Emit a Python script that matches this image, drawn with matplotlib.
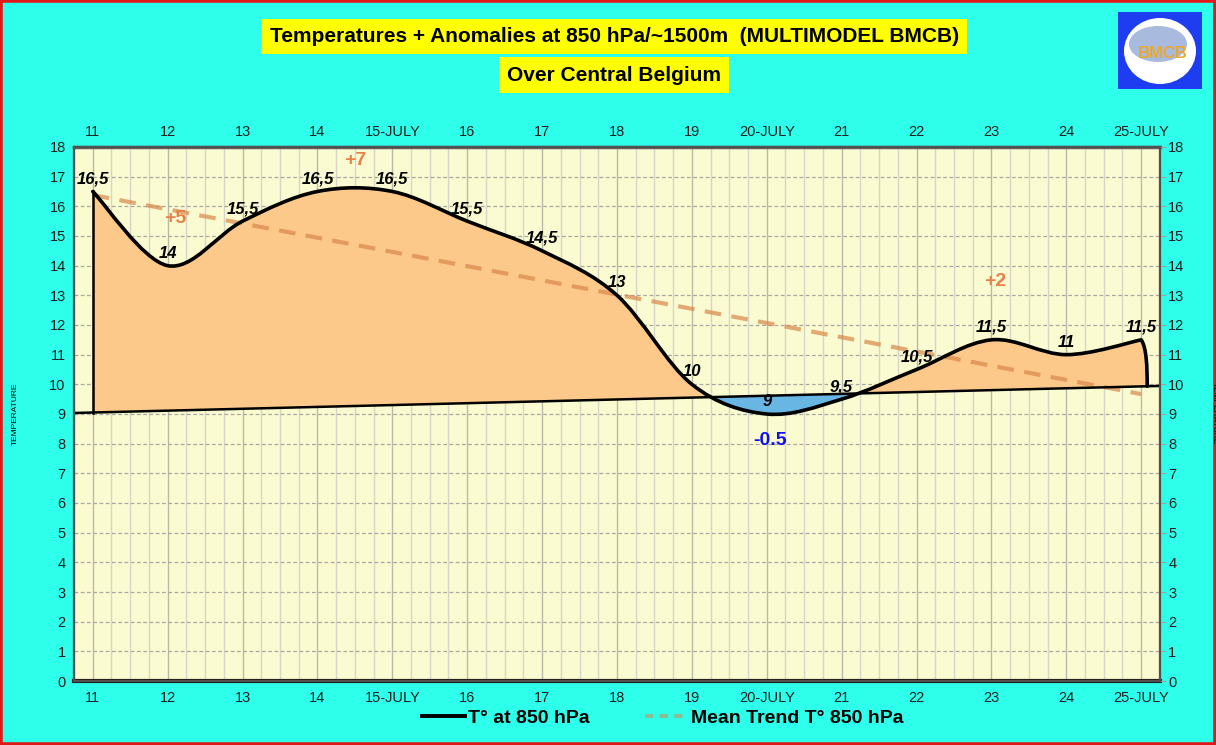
import matplotlib
matplotlib.use("Agg")
import matplotlib.pyplot as plt
import numpy as np
from matplotlib.path import Path
from matplotlib.patches import PathPatch, Polygon, Rectangle, Ellipse
from matplotlib.lines import Line2D

plt.rcParams['font.family'] = ['Liberation Sans', 'DejaVu Sans']

# data
days = [11, 12, 13, 14, 15, 16, 17, 18, 19, 20, 21, 22, 23, 24, 25]
temps = [16.5, 14, 15.5, 16.5, 16.5, 15.5, 14.5, 13, 10, 9, 9.5, 10.5, 11.5, 11, 11.5]
temp_labels = ['16,5', '14', '15,5', '16,5', '16,5', '15,5', '14,5', '13', '10',
               '9', '9,5', '10,5', '11,5', '11', '11,5']
day_labels = ['11', '12', '13', '14', '15-JULY', '16', '17', '18', '19', '20-JULY',
              '21', '22', '23', '24', '25-JULY']
normal_days = [11, 25]
normal_temps = [9.05, 9.93]
trend_days = [11, 25]
trend_temps = [16.38, 9.67]
anomaly_text = ['+5', '+7', '+2', '-0.5']
anomaly_pos = [(12.1, 15.6), (14.5, 17.55), (23.05, 13.45), (20.05, 8.1)]
anomaly_col = ['#E8804A', '#E8804A', '#E8804A', '#1010F0']

BG = '#2EFFEA'
PLOT_BG = '#FBFBD2'
ORANGE_FILL = '#FDC98A'
BLUE_FILL = '#68B6E4'


def smooth_verts(xs, ys):
    # catmull-rom style bezier control points, like excel's smoothed line
    pts = np.column_stack([xs, ys]).astype(float)
    n = len(pts)
    verts = [tuple(pts[0])]
    codes = [Path.MOVETO]
    for i in range(n - 1):
        p0 = pts[i - 1] if i > 0 else pts[i]
        p3 = pts[i + 2] if i + 2 < n else pts[i + 1]
        c1 = pts[i] + (pts[i + 1] - p0) / 6
        c2 = pts[i + 1] - (p3 - pts[i]) / 6
        verts += [tuple(c1), tuple(c2), tuple(pts[i + 1])]
        codes += [Path.CURVE4] * 3
    return verts, codes


def normal_at(x):
    slope = (normal_temps[1] - normal_temps[0]) / (normal_days[1] - normal_days[0])
    return normal_temps[0] + (x - normal_days[0]) * slope


fig = plt.figure(figsize=(12.16, 7.45), dpi=100, facecolor=BG)
ax = fig.add_axes([0.0609, 0.0859, 0.8930, 0.7168])
ax.set_facecolor(PLOT_BG)
ax.set_xlim(10.75, 25.25)
ax.set_ylim(0, 18)

# grid
for q in np.arange(10.75, 25.26, 0.25):
    major = abs(q - round(q)) < 1e-6
    ax.axvline(q, color='#B9B9A8' if major else '#D6D6C6', lw=1.0, zorder=0.5)
for t in range(1, 18):
    ax.axhline(t, color='#A8A8A0', lw=0.9, ls=(0, (3, 2)), zorder=0.6)

# smoothed temperature curve + closing edges
verts, codes = smooth_verts(days, temps)
end_x = days[-1] + 0.08
end_n = normal_at(end_x)
edge = [(days[-1] + 0.07, temps[-1] - 0.25), (end_x, temps[-1] - 0.9), (end_x, end_n)]
area_verts = verts + edge + [(days[0], normal_at(days[0])), (days[0], temps[0])]
area_codes = codes + [Path.CURVE4] * 3 + [Path.LINETO, Path.CLOSEPOLY]
area_path = Path(area_verts, area_codes)

xa, xb = 0, 40
above = Polygon([(xa, normal_at(xa)), (xb, normal_at(xb)), (xb, 100), (xa, 100)],
                closed=True, transform=ax.transData, visible=False)
below = Polygon([(xa, normal_at(xa)), (xb, normal_at(xb)), (xb, -100), (xa, -100)],
                closed=True, transform=ax.transData, visible=False)
ax.add_patch(above)
ax.add_patch(below)

fill_up = PathPatch(area_path, facecolor=ORANGE_FILL, edgecolor='none', zorder=1)
ax.add_patch(fill_up)
fill_up.set_clip_path(above)
fill_dn = PathPatch(area_path, facecolor=BLUE_FILL, edgecolor='none', zorder=1)
ax.add_patch(fill_dn)
fill_dn.set_clip_path(below)

# outline: left vertical, curve, right edge
ax.plot([days[0], days[0]], [normal_at(days[0]), temps[0]], color='black', lw=1.8, zorder=3)
line_path = Path(verts + edge, codes + [Path.CURVE4] * 3)
ax.add_patch(PathPatch(line_path, facecolor='none', edgecolor='black', lw=2.6, zorder=4,
                       capstyle='round', joinstyle='round'))

# normal baseline
ax.axline((normal_days[0], normal_temps[0]), (normal_days[1], normal_temps[1]),
          color='black', lw=1.8, zorder=3)

# mean trend
ax.plot(trend_days, trend_temps, color='#D9874A', alpha=0.7, lw=3, ls=(0, (4, 2.5)), zorder=2)

# data labels
for d, t, lab in zip(days, temps, temp_labels):
    ax.annotate(lab, (d, t), xytext=(0, 9), textcoords='offset points', ha='center', va='center',
                fontsize=12, fontweight='bold', fontstyle='italic', color='black', zorder=6)

for txt, (x, y), c in zip(anomaly_text, anomaly_pos, anomaly_col):
    ax.text(x, y, txt, ha='center', va='center', fontsize=14, fontweight='bold', color=c, zorder=6)

# axes ticks
ax.set_xticks(days)
ax.set_xticklabels(day_labels)
ax.set_yticks(range(0, 19))
ax.tick_params(axis='both', labelsize=10.5, length=0, colors='#202020', pad=6)
ax.tick_params(axis='x', pad=7)
axt = ax.twiny()
axt.set_xlim(ax.get_xlim())
axt.set_xticks(days)
axt.set_xticklabels(day_labels)
axt.tick_params(axis='x', labelsize=10.5, length=0, colors='#202020', pad=6)
axr = ax.twinx()
axr.set_ylim(ax.get_ylim())
axr.set_yticks(range(0, 19))
axr.tick_params(axis='y', labelsize=10.5, length=4, color='#A0A0A0', colors='#202020', pad=2)
for a in (ax, axt, axr):
    for s in a.spines.values():
        s.set_color('#505050')
        s.set_linewidth(1.5)
ax.spines['bottom'].set_linewidth(3)
ax.spines['bottom'].set_color('#202020')
axt.spines['top'].set_linewidth(2.5)
axt.spines['top'].set_color('#606060')

fig.text(0.0125, 0.445, 'TEMPERATURE', rotation=90, fontsize=6, ha='center', va='center')
fig.text(0.9985, 0.445, 'TEMPERATURE', rotation=270, fontsize=6, ha='center', va='center')

# titles
fig.text(0.505, 0.951, 'Temperatures + Anomalies at 850 hPa/~1500m  (MULTIMODEL BMCB)', ha='center',
         va='center', fontsize=15, fontweight='bold',
         bbox=dict(boxstyle='square,pad=0.4', facecolor='#FFFF00', edgecolor='none'))
fig.text(0.505, 0.899, 'Over Central Belgium', ha='center', va='center', fontsize=15, fontweight='bold',
         bbox=dict(boxstyle='square,pad=0.4', facecolor='#FFFF00', edgecolor='none'))

# logo
fig.patches.append(Rectangle((1118 / 1216, 1 - 89 / 745), 84 / 1216, 77 / 745, transform=fig.transFigure,
                             facecolor='#1E3CF0', edgecolor='none'))
fig.patches.append(Ellipse((1160 / 1216, 1 - 51 / 745), 72 / 1216, 66 / 745, transform=fig.transFigure,
                           facecolor='white', edgecolor='none'))
fig.patches.append(Ellipse((1158 / 1216, 1 - 44 / 745), 58 / 1216, 36 / 745, transform=fig.transFigure,
                           facecolor='#6E8EC8', edgecolor='none', alpha=0.6))
fig.text(1163 / 1216, 1 - 53 / 745, 'BMCB', ha='center', va='center', fontsize=12, fontweight='bold',
         color='#E8A830')

# legend
h1 = Line2D([], [], color='black', lw=2.8)
h2 = Line2D([], [], color='#D9874A', alpha=0.55, lw=3, ls=(0, (2, 1.5)))
fig.legend([h1, h2], ['T° at 850 hPa', 'Mean Trend T° 850 hPa'], loc='center', bbox_to_anchor=(0.545, 0.036),
           ncol=2, frameon=False, prop={'weight': 'bold', 'size': 14}, handlelength=2.2, handletextpad=0.2,
           columnspacing=2.8)

# red border
fig.patches.append(Rectangle((0, 0), 1, 1, transform=fig.transFigure, facecolor='none',
                             edgecolor='#E01818', lw=4))

fig.savefig('out.png', dpi=100, facecolor=BG)
